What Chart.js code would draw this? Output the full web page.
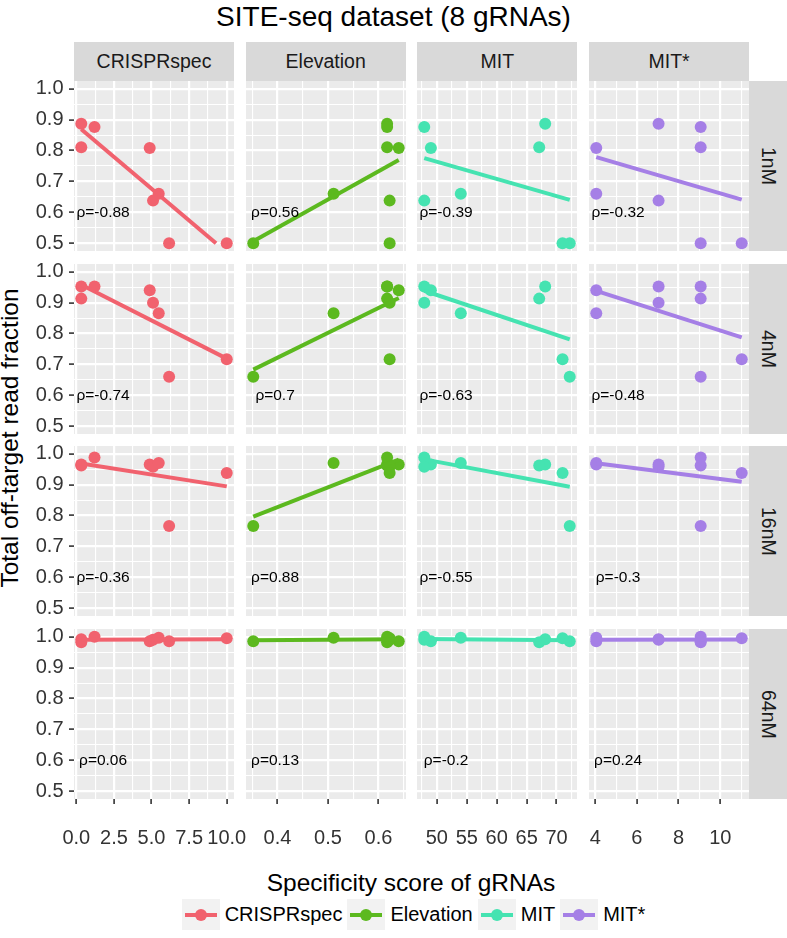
<!DOCTYPE html>
<html>
<head>
<meta charset="utf-8">
<title>SITE-seq dataset (8 gRNAs)</title>
<script src="https://cdn.jsdelivr.net/npm/chart.js@4/dist/chart.umd.min.js"></script>
<style>
  html, body { margin: 0; padding: 0; background: #fff; }
  body { position: relative; width: 787px; height: 938px; overflow: hidden;
         font-family: "Liberation Sans", Arial, sans-serif; color: #000; }
  canvas.panel { position: absolute; }
  .strip { position: absolute; background: #D9D9D9; color: #1A1A1A; font-size: 19.5px;
           display: flex; align-items: center; justify-content: center; }
  .strip.side { writing-mode: vertical-rl; }
  #title { position: absolute; left: 0; width: 787px; top: 1px; text-align: center; font-size: 28px; }
  #xtitle { position: absolute; left: 74px; width: 674px; top: 869px; text-align: center; font-size: 24.5px; }
  #ytitle { position: absolute; left: -190px; top: 424px; width: 400px; text-align: center;
            font-size: 24.5px; transform: rotate(-90deg); }
  #legend { position: absolute; left: 74px; width: 684px; top: 899px; height: 31px;
            display: flex; justify-content: center; align-items: center; font-size: 20px; }
  .key { position: relative; width: 38px; height: 31px; background: #F2F2F2; margin-right: 5px; }
  .key .ln { position: absolute; left: 3px; right: 3px; top: 13.5px; height: 4px; }
  .key .pt { position: absolute; left: 13px; top: 9.5px; width: 12px; height: 12px; border-radius: 50%; }
  .item { display: flex; align-items: center; margin-right: 5px; }
</style>
</head>
<body>
<div id="title">SITE-seq dataset (8 gRNAs)</div>
<div id="ytitle">Total off-target read fraction</div>
<div id="xtitle">Specificity score of gRNAs</div>
<div id="legend"></div>

<script>
/* ─── Data ──────────────────────────────────────────────────────────────────── */

const methods        = ['CRISPRspec', 'Elevation', 'MIT', 'MIT*'];
const concentrations = ['1nM', '4nM', '16nM', '64nM'];
const methodColors   = ['#F1626E', '#5CB91F', '#45E3B1', '#A57FE6'];

// specificity score of each of the 8 gRNAs, one list per method
const scoreCRISPRspec = [0.33, 0.33, 1.21, 4.88, 5.10, 5.48, 6.17, 10.0];
const scoreElevation  = [0.617, 0.617, 0.617, 0.640, 0.622, 0.511, 0.352, 0.622];
const scoreMIT        = [68.1, 67.1, 47.9, 49.0, 47.9, 54.0, 72.2, 71.0];
const scoreMITstar    = [7.04, 9.06, 9.06, 4.05, 7.04, 4.05, 9.06, 11.03];

// total off-target read fraction of the same 8 gRNAs, one list per concentration
const frac1nM  = [0.887, 0.811, 0.876, 0.808, 0.638, 0.660, 0.500, 0.500];
const frac4nM  = [0.952, 0.913, 0.952, 0.940, 0.900, 0.866, 0.660, 0.717];
const frac16nM = [0.965, 0.962, 0.988, 0.965, 0.958, 0.970, 0.766, 0.938];
const frac64nM = [0.992, 0.982, 1.000, 0.985, 0.990, 0.997, 0.985, 0.995];

// spearman rho printed in each panel (row = concentration, column = method)
const rho1nM  = ['-0.88', '0.56', '-0.39', '-0.32'];
const rho4nM  = ['-0.74', '0.7',  '-0.63', '-0.48'];
const rho16nM = ['-0.36', '0.88', '-0.55', '-0.3'];
const rho64nM = ['0.06',  '0.13', '-0.2',  '0.24'];

// axis ticks
const yTickValues = [0.5, 0.6, 0.7, 0.8, 0.9, 1.0];
const yTickLabels = ['0.5', '0.6', '0.7', '0.8', '0.9', '1.0'];
const xTickValuesCRISPRspec = [0, 2.5, 5, 7.5, 10];
const xTickLabelsCRISPRspec = ['0.0', '2.5', '5.0', '7.5', '10.0'];
const xTickValuesElevation  = [0.4, 0.5, 0.6];
const xTickLabelsElevation  = ['0.4', '0.5', '0.6'];
const xTickValuesMIT        = [50, 55, 60, 65, 70];
const xTickLabelsMIT        = ['50', '55', '60', '65', '70'];
const xTickValuesMITstar    = [4, 6, 8, 10];
const xTickLabelsMITstar    = ['4', '6', '8', '10'];

const yLimits = [0.5, 1.0];

/* ─── Layout ────────────────────────────────────────────────────────────────── */

const scores     = [scoreCRISPRspec, scoreElevation, scoreMIT, scoreMITstar];
const fractions  = [frac1nM, frac4nM, frac16nM, frac64nM];
const rhos       = [rho1nM, rho4nM, rho16nM, rho64nM];
const xTickVals  = [xTickValuesCRISPRspec, xTickValuesElevation, xTickValuesMIT, xTickValuesMITstar];
const xTickLbls  = [xTickLabelsCRISPRspec, xTickLabelsElevation, xTickLabelsMIT, xTickLabelsMITstar];

const PANEL_X0 = 74,  PANEL_DX = 171.7, PANEL_W = 160;
const PANEL_Y0 = 81,  PANEL_DY = 182.7, PANEL_H = 170;
const STRIP    = 39;
const PAD      = 50;    // spare canvas margin on sides without an axis (room for overhanging labels)
const YAXIS_W  = 64;
const XAXIS_H  = 60;

const FONT = '"Liberation Sans", Arial, sans-serif';
Chart.defaults.font.family = FONT;

/* ─── Helpers ───────────────────────────────────────────────────────────────── */

// ggplot-style major + minor breaks, minor ones at midpoints, kept inside [lo, hi]
function gridTicks(values, labels, lo, hi) {
  const step = values[1] - values[0];
  const out = values.map((v, i) => ({ value: v, lbl: labels[i] }));
  const ext = [values[0] - step, ...values, values[values.length - 1] + step];
  for (let i = 0; i < ext.length - 1; i++) {
    const m = (ext[i] + ext[i + 1]) / 2;
    if (m >= lo && m <= hi) out.push({ value: m, lbl: '' });
  }
  return out.filter(t => t.value >= lo && t.value <= hi).sort((a, b) => a.value - b.value);
}

function linearFit(xs, ys) {
  const n  = xs.length;
  const mx = xs.reduce((a, v) => a + v, 0) / n;
  const my = ys.reduce((a, v) => a + v, 0) / n;
  let sxy = 0, sxx = 0;
  xs.forEach((x, i) => { sxy += (x - mx) * (ys[i] - my); sxx += (x - mx) ** 2; });
  const b = sxy / sxx;
  return { a: my - b * mx, b };
}

// fitted line over the data range, dropping the part outside the y limits
function fitSegment(xs, ys) {
  const { a, b } = linearFit(xs, ys);
  let x0 = Math.min(...xs), x1 = Math.max(...xs);
  if (b !== 0) {
    const xa = (yLimits[0] - a) / b, xb = (yLimits[1] - a) / b;
    x0 = Math.max(x0, Math.min(xa, xb));
    x1 = Math.min(x1, Math.max(xa, xb));
  }
  return [{ x: x0, y: a + b * x0 }, { x: x1, y: a + b * x1 }];
}

const panelBg = {
  id: 'panelBg',
  beforeDraw(chart) {
    const { ctx, chartArea: a } = chart;
    ctx.save();
    ctx.fillStyle = '#EBEBEB';
    ctx.fillRect(a.left, a.top, a.width, a.height);
    ctx.restore();
  },
};

const rhoLabel = {
  id: 'rhoLabel',
  afterDatasetsDraw(chart, args, opts) {
    const { ctx, scales } = chart;
    const px = scales.x.getPixelForValue(opts.x);
    const py = scales.y.getPixelForValue(opts.y);
    ctx.save();
    ctx.font = '15.5px ' + FONT;
    ctx.fillStyle = '#000';
    ctx.textAlign = 'center';
    ctx.textBaseline = 'middle';
    ctx.fillText('\u03C1=' + opts.text, px, py);
    ctx.restore();
  },
};

/* ─── Panels ────────────────────────────────────────────────────────────────── */

function renderPanel(r, c) {
  const left = PANEL_X0 + c * PANEL_DX;
  const top  = PANEL_Y0 + r * PANEL_DY;
  const showY = c === 0, showX = r === concentrations.length - 1;
  const padL = showY ? YAXIS_W : PAD;
  const padB = showX ? XAXIS_H : PAD;

  const canvas = document.createElement('canvas');
  canvas.className = 'panel';
  canvas.width  = PANEL_W + padL + PAD;
  canvas.height = PANEL_H + PAD + padB;
  canvas.style.left = (left - padL) + 'px';
  canvas.style.top  = (top - PAD) + 'px';
  document.body.appendChild(canvas);

  const xs = scores[c], ys = fractions[r];
  const lo = Math.min(...xs), hi = Math.max(...xs);
  const xMin = lo - 0.05 * (hi - lo), xMax = hi + 0.05 * (hi - lo);
  const yMin = yLimits[0] - 0.05 * (yLimits[1] - yLimits[0]);
  const yMax = yLimits[1] + 0.05 * (yLimits[1] - yLimits[0]);
  const col = methodColors[c];

  const gridOpts = show => ({
    color: '#FFFFFF',
    lineWidth: ctx => (ctx.tick && ctx.tick.lbl ? 2.2 : 1.1),
    drawTicks: show,
    tickLength: 5,
    tickWidth: 1.6,
    tickColor: ctx => (ctx.tick && ctx.tick.lbl ? '#333333' : 'rgba(0,0,0,0)'),
  });

  new Chart(canvas, {
    type: 'scatter',
    data: {
      datasets: [
        {
          data: fitSegment(xs, ys),
          showLine: true,
          borderColor: col,
          borderWidth: 4,
          pointRadius: 0,
          fill: false,
        },
        {
          data: xs.map((x, i) => ({ x, y: ys[i] })),
          backgroundColor: col,
          borderWidth: 0,
          pointRadius: 6,
          pointHoverRadius: 6,
        },
      ],
    },
    options: {
      responsive: false,
      animation: false,
      events: [],
      layout: { padding: { left: showY ? 0 : PAD, right: PAD, top: PAD, bottom: showX ? 0 : PAD } },
      plugins: {
        legend: { display: false },
        tooltip: { enabled: false },
        rhoLabel: { text: rhos[r][c], x: lo + 0.15 * (hi - lo), y: 0.6 },
      },
      scales: {
        x: {
          type: 'linear',
          min: xMin,
          max: xMax,
          afterBuildTicks: s => { s.ticks = gridTicks(xTickVals[c], xTickLbls[c], xMin, xMax); },
          afterFit: s => { s.height = showX ? XAXIS_H : 0; },
          ticks: {
            display: showX,
            autoSkip: false,
            maxRotation: 0,
            padding: 22,
            color: '#333333',
            font: { size: 20 },
            callback: (v, i, ticks) => ticks[i].lbl,
          },
          grid: gridOpts(showX),
          border: { display: false },
        },
        y: {
          type: 'linear',
          min: yMin,
          max: yMax,
          afterBuildTicks: s => { s.ticks = gridTicks(yTickValues, yTickLabels, yMin, yMax); },
          afterFit: s => { s.width = showY ? YAXIS_W : 0; },
          ticks: {
            display: showY,
            autoSkip: false,
            padding: 5.5,
            color: '#333333',
            font: { size: 20 },
            callback: (v, i, ticks) => ticks[i].lbl,
          },
          grid: gridOpts(showY),
          border: { display: false },
        },
      },
    },
    plugins: [panelBg, rhoLabel],
  });
}

function renderStrips() {
  methods.forEach((m, c) => {
    const d = document.createElement('div');
    d.className = 'strip';
    d.textContent = m;
    Object.assign(d.style, {
      left: (PANEL_X0 + c * PANEL_DX) + 'px', top: (PANEL_Y0 - STRIP) + 'px',
      width: PANEL_W + 'px', height: STRIP + 'px',
    });
    document.body.appendChild(d);
  });
  concentrations.forEach((k, r) => {
    const d = document.createElement('div');
    d.className = 'strip side';
    d.textContent = k;
    Object.assign(d.style, {
      left: (PANEL_X0 + 3 * PANEL_DX + PANEL_W) + 'px', top: (PANEL_Y0 + r * PANEL_DY) + 'px',
      width: STRIP + 'px', height: PANEL_H + 'px',
    });
    document.body.appendChild(d);
  });
}

function renderLegend() {
  const box = document.getElementById('legend');
  box.innerHTML = methods.map((m, i) => `
    <div class="item">
      <div class="key"><div class="ln" style="background:${methodColors[i]}"></div>
        <div class="pt" style="background:${methodColors[i]}"></div></div>
      <span>${m}</span>
    </div>`).join('');
}

renderStrips();
concentrations.forEach((_, r) => methods.forEach((_, c) => renderPanel(r, c)));
renderLegend();
</script>
</body>
</html>
